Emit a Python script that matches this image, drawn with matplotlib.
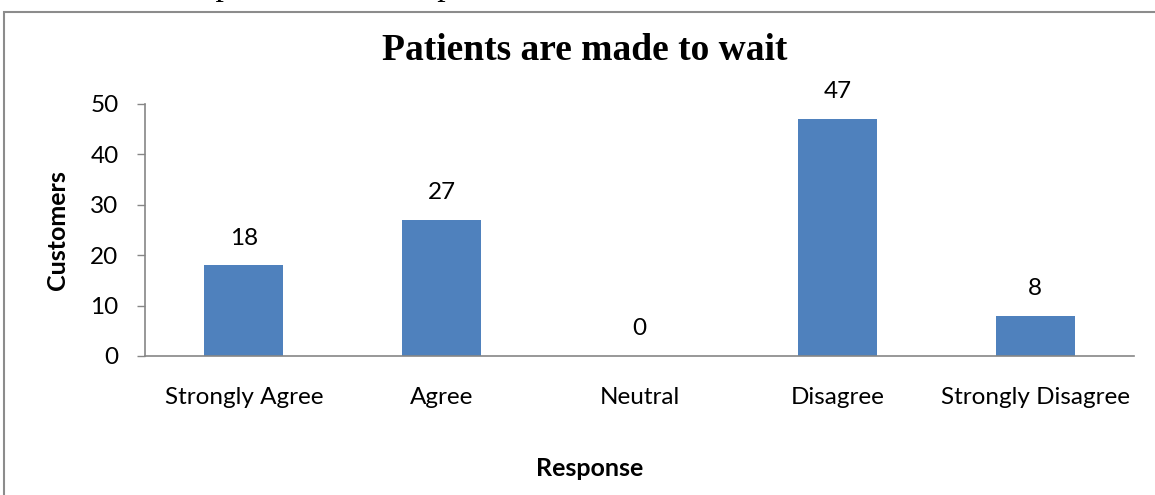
import matplotlib
matplotlib.use("Agg")
import matplotlib.pyplot as plt
from matplotlib.patches import Rectangle

# survey answers
categories = ["Strongly Agree", "Agree", "Neutral", "Disagree", "Strongly Disagree"]
customers = [18, 27, 0, 47, 8]
yticks = [0, 10, 20, 30, 40, 50]

plt.rcParams['font.family'] = ['Lato', 'DejaVu Sans']

fig = plt.figure(figsize=(11.55, 4.95), dpi=100)

# frame of the chart area (cut off on the right and bottom)
fig.patches.append(Rectangle((4 / 1155, -0.1), 1.2, 1 - 12 / 495 + 0.1,
                             transform=fig.transFigure, fill=False,
                             edgecolor="#8c8c8c", linewidth=1.5))

# bit of document text cut off at the top, only the bottom edge shows
fig.text(5 / 1155, 1 + 5 / 495, "and that the hospital needs to improve on this.",
         family="Liberation Serif", fontsize=24, va="baseline", ha="left")

ax = fig.add_axes([145 / 1155, 1 - 356 / 495, (1134 - 145) / 1155, (356 - 104) / 495])
x = range(len(categories))
bars = ax.bar(x, customers, width=0.4, color="#4F81BD")

ax.set_xlim(-0.5, len(categories) - 0.5)
ax.set_ylim(0, 50)
ax.set_yticks(yticks)
ax.set_xticks(list(x))
ax.set_xticklabels(categories, fontsize=17.5)
ax.tick_params(axis="x", length=0, pad=22)
ax.tick_params(axis="y", length=6, width=1, color="#868686", pad=13, labelsize=17.5)

for side in ["top", "right"]:
    ax.spines[side].set_visible(False)
for side in ["left", "bottom"]:
    ax.spines[side].set_color("#868686")
    ax.spines[side].set_linewidth(1.2)

for rect, val in zip(bars, customers):
    ax.annotate(str(val), (rect.get_x() + rect.get_width() / 2, val),
                xytext=(0, 12), textcoords="offset points",
                ha="center", va="bottom", fontsize=17.5)

fig.text(585 / 1155, 1 - 50 / 495, "Patients are made to wait",
         family="Liberation Serif", weight="bold", fontsize=27,
         ha="center", va="center")
fig.text(58 / 1155, 1 - 230 / 495, "Customers", rotation=90, weight="bold",
         fontsize=18, ha="center", va="center")
fig.text(590 / 1155, 1 - 468 / 495, "Response", weight="bold",
         fontsize=18, ha="center", va="center")

fig.savefig("out.png", dpi=100)
